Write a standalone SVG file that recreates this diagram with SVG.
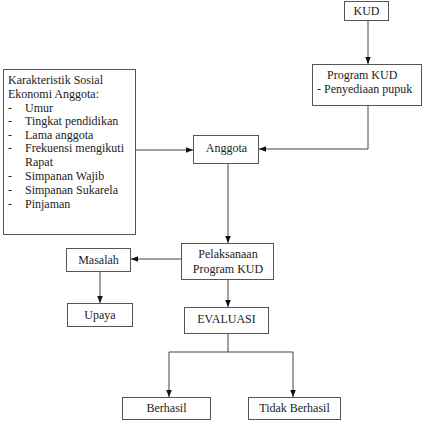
<svg xmlns="http://www.w3.org/2000/svg" width="424" height="441" viewBox="0 0 424 441" font-family="'Liberation Serif', 'DejaVu Serif', serif">
<style>
.box{fill:#fff;stroke:#555;stroke-width:1}
.ln{fill:none;stroke:#444;stroke-width:1}
.arr{fill:none;stroke:#444;stroke-width:1;marker-end:url(#ah)}
text{font-family:'Liberation Serif','DejaVu Serif',serif;font-size:12px;fill:#222}
.c{text-anchor:middle}
</style>
<defs>
<marker id="ah" viewBox="0 0 10 10" refX="10" refY="5" markerWidth="7" markerHeight="7" markerUnits="userSpaceOnUse" orient="auto">
<path d="M0,1 L10,5 L0,9 z" fill="#111"/>
</marker>
</defs>
<rect width="424" height="441" fill="#fff"/>
<g id="connectors">
<line class="arr" x1="368" y1="21" x2="368" y2="64"/>
<polyline class="arr" points="368,106 368,149 259,149"/>
<line class="arr" x1="136" y1="150" x2="193" y2="150"/>
<line class="arr" x1="228" y1="164" x2="228" y2="243"/>
<line class="arr" x1="181" y1="259" x2="131" y2="259"/>
<line class="arr" x1="100" y1="272" x2="100" y2="303"/>
<line class="arr" x1="228" y1="280" x2="228" y2="307"/>
<polyline class="ln" points="228,334 228,352"/>
<polyline class="ln" points="169,352 293,352"/>
<line class="arr" x1="169" y1="352" x2="169" y2="397"/>
<line class="arr" x1="293" y1="352" x2="293" y2="397"/>
</g>
<g id="kud">
<rect class="box" x="344.5" y="1.5" width="44" height="19"/>
<text class="c" x="366.5" y="15">KUD</text>
</g>
<g id="program-kud">
<rect class="box" x="312.5" y="64.5" width="109" height="41"/>
<text x="327" y="79">Program KUD</text>
<text x="317" y="93">- Penyediaan pupuk</text>
</g>
<g id="karakteristik">
<rect class="box" x="3.5" y="69.5" width="132" height="165"/>
<text x="8" y="84">Karakteristik Sosial</text>
<text x="8" y="98">Ekonomi Anggota:</text>
<text x="8" y="112">-</text><text x="25" y="112">Umur</text>
<text x="8" y="125">-</text><text x="25" y="125">Tingkat pendidikan</text>
<text x="8" y="139">-</text><text x="25" y="139">Lama anggota</text>
<text x="8" y="152">-</text><text x="25" y="152">Frekuensi mengikuti</text>
<text x="25" y="166">Rapat</text>
<text x="8" y="180">-</text><text x="25" y="180">Simpanan Wajib</text>
<text x="8" y="194">-</text><text x="25" y="194">Simpanan Sukarela</text>
<text x="8" y="208">-</text><text x="25" y="208">Pinjaman</text>
</g>
<g id="anggota">
<rect class="box" x="193.5" y="135.5" width="65" height="28"/>
<text class="c" x="226.5" y="152">Anggota</text>
</g>
<g id="pelaksanaan">
<rect class="box" x="181.5" y="243.5" width="92" height="36"/>
<text class="c" x="228" y="258">Pelaksanaan</text>
<text class="c" x="228" y="273">Program KUD</text>
</g>
<g id="masalah">
<rect class="box" x="66.5" y="248.5" width="64" height="23"/>
<text class="c" x="98.5" y="264">Masalah</text>
</g>
<g id="upaya">
<rect class="box" x="67.5" y="303.5" width="65" height="23"/>
<text class="c" x="100" y="319">Upaya</text>
</g>
<g id="evaluasi">
<rect class="box" x="184.5" y="307.5" width="84" height="26"/>
<text class="c" x="226.5" y="323">EVALUASI</text>
</g>
<g id="berhasil">
<rect class="box" x="122.5" y="397.5" width="88" height="22"/>
<text class="c" x="166.5" y="412">Berhasil</text>
</g>
<g id="tidak-berhasil">
<rect class="box" x="248.5" y="397.5" width="92" height="22"/>
<text class="c" x="294.5" y="412">Tidak Berhasil</text>
</g>
</svg>
